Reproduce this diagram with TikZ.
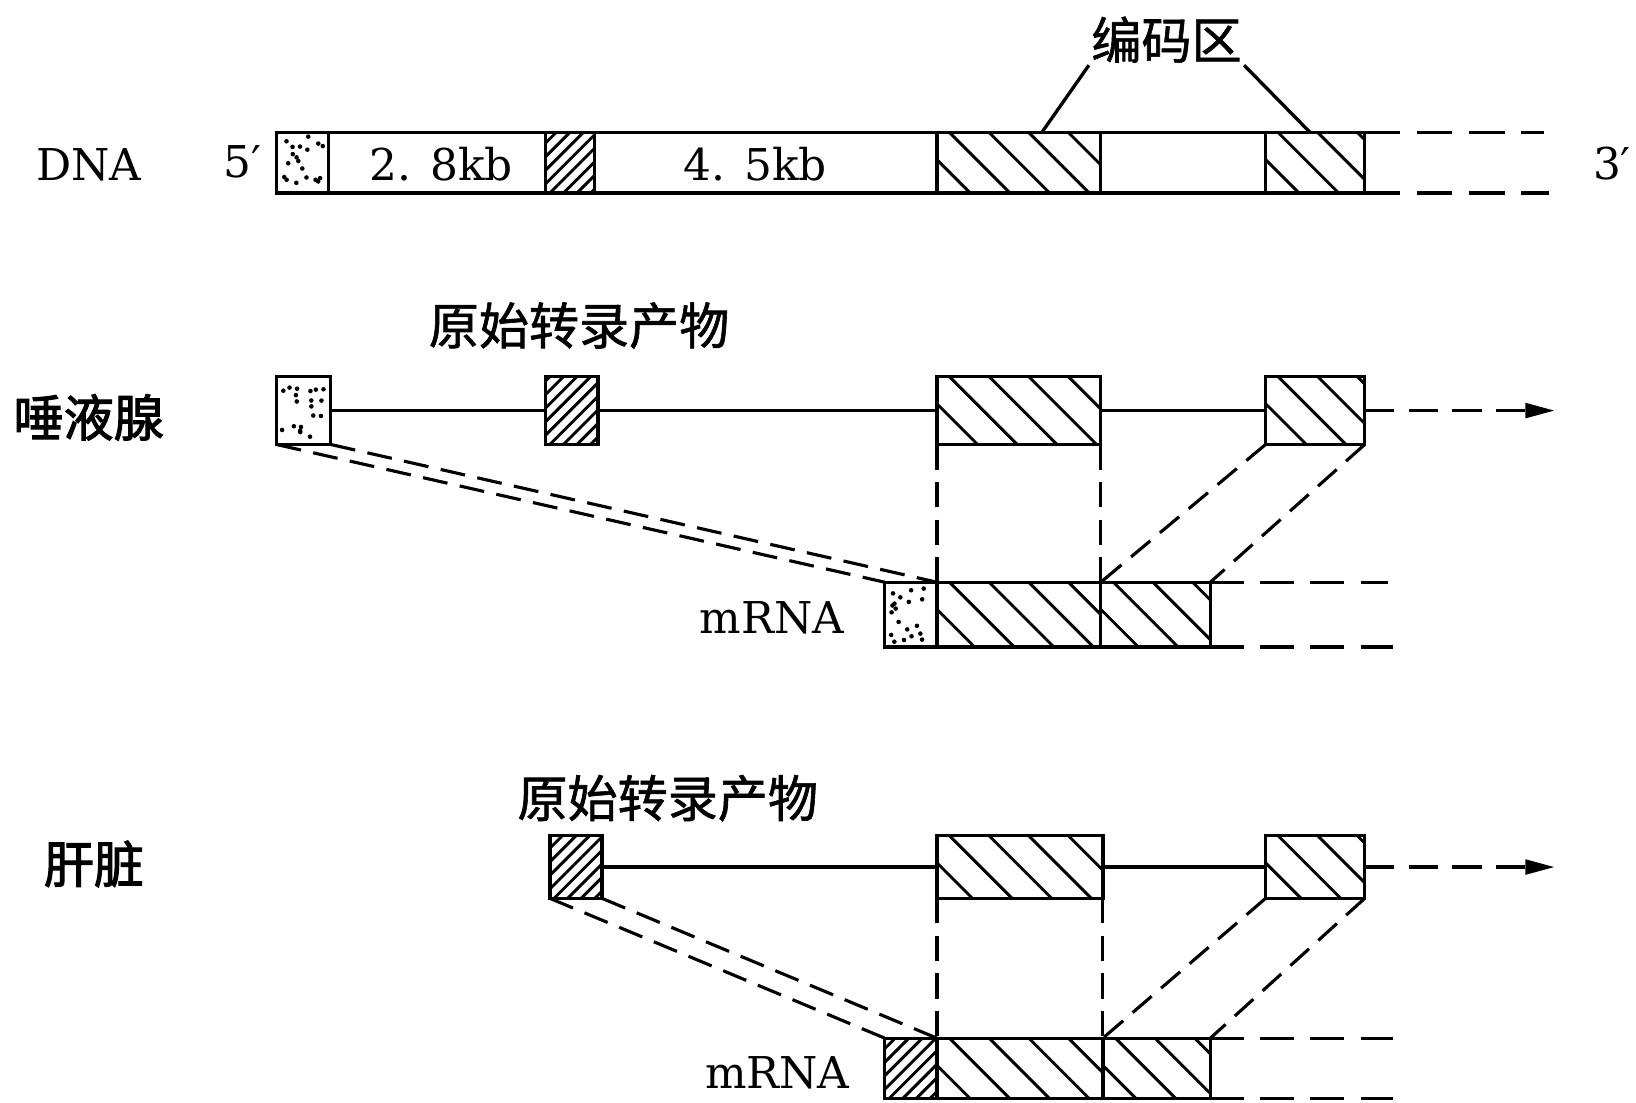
\documentclass[tikz,border=0pt]{standalone}
\usepackage{fontspec}
\setmainfont{DejaVu Serif}
\newfontfamily\cjk{Noto Sans CJK SC}[FakeBold=1.2]
\newfontfamily\cjkb{Noto Sans CJK SC}[FakeBold=2.2]
\usetikzlibrary{calc,fit,arrows.meta}
\begin{document}
\pgfmathsetseed{7}
\begin{tikzpicture}[x=0.5pt,y=-0.5pt,
  box/.style={draw, line width=1.6pt, inner sep=0pt, outer sep=0pt, fill=white},
  hl/.style={line width=1.4pt},
  nwbox/.style={box, path picture={\foreach \i in {-3,...,6}{\draw[hl] ($(path picture bounding box.north west)+(\i*38+12,0)$) -- ++(110,110);}}},
  nebox/.style={box, path picture={\foreach \i in {-7,...,6}{\draw[hl] ($(path picture bounding box.south west)+(\i*13+4,0)$) -- ++(110,-110);}}},
  dotbox/.style={box, path picture={\foreach \k in {1,...,19}{\pgfmathsetmacro\rxx{0.1+0.8*rnd}\pgfmathsetmacro\ryy{4+52*rnd}\fill[black] ($(path picture bounding box.south west)!\rxx!(path picture bounding box.south east)+(0,-\ryy)$) circle[radius=1.1pt];}}},
  bar/.style={line width=1.6pt},
  dnadash/.style={line width=1.6pt, dash pattern=on 17pt off 8pt},
  dsh/.style={line width=1.5pt, dash pattern=on 12pt off 6pt},
  mdash/.style={line width=1.6pt, dash pattern=on 16pt off 8pt},
  arr/.style={line width=1.6pt, dash pattern=on 14pt off 7pt, -{Triangle[length=14pt,width=7pt]}},
  lat/.style={font=\fontsize{21}{23}\selectfont, inner sep=1pt},
  zh/.style={font=\cjk\fontsize{24}{26}\selectfont, inner sep=1pt},
  zhb/.style={font=\cjkb\fontsize{24}{26}\selectfont, inner sep=1pt}
]
\useasboundingbox (0,0) rectangle (1568,1057);

% ---------- Row 1: DNA ----------
\node[lat] (dna) at (85,158) {DNA};
\node[lat] (p5) at (232,155) {5′};
\node[lat] (p3) at (1545,157) {3′};
\node[dotbox, fit={(265,127)(315,185)}] (d1) {};
\node[nebox, fit={(523,127)(570,185)}] (d2) {};
\node[nwbox, fit={(898,127)(1055,185)}] (d3) {};
\node[nwbox, fit={(1213,127)(1308,185)}] (d4) {};
\draw[bar] (d1.north east) -- (d2.north west) (d1.south east) -- (d2.south west);
\draw[bar] (d2.north east) -- (d3.north west) (d2.south east) -- (d3.south west);
\draw[bar] (d3.north east) -- (d4.north west) (d3.south east) -- (d4.south west);
\coordinate (e1t) at (1480,127);
\coordinate (e1b) at (1485,185);
\draw[dnadash] (d4.north east) -- (e1t);
\draw[dnadash] (d4.south east) -- (e1b);
\node[lat] (k1) at (423,157) {2. 8kb};
\node[lat] (k2) at (724,157) {4. 5kb};
\node[zh] (code) at (1118,38) {编码区};
\draw[bar] (code.south west) -- ($(d3.north west)!0.64!(d3.north east)$);
\draw[bar] (code.south east) -- ($(d4.north west)!0.45!(d4.north east)$);

% ---------- Row 2: salivary gland ----------
\node[zh] (t1) at (555,312) {原始转录产物};
\node[zhb] (sal) at (85,400) {唾液腺};
\node[dotbox, fit={(265,361)(317,426)}] (s1) {};
\node[nebox, fit={(523,361)(573,426)}] (s2) {};
\node[nwbox, fit={(898,361)(1055,426)}] (s3) {};
\node[nwbox, fit={(1213,361)(1308,426)}] (s4) {};
\draw[bar] (s1.east) -- (s2.west);
\draw[bar] (s2.east) -- (s3.west);
\draw[bar] (s3.east) -- (s4.west);
\coordinate (a1) at (1490,393.5);
\draw[arr] (s4.east) -- (a1);
\node[lat] (mr1) at (740,592) {mRNA};
\node[dotbox, fit={(848,558)(898,620)}] (m1) {};
\node[nwbox, fit={(898,558)(1055,620)}] (m2) {};
\node[nwbox, fit={(1055,558)(1160,620)}] (m3) {};
\coordinate (m3t) at (1330,558);
\coordinate (m3b) at (1335,620);
\draw[mdash] (m3.north east) -- (m3t);
\draw[mdash] (m3.south east) -- (m3b);
\draw[dsh] (s1.south west) -- (m1.north west);
\draw[dsh] (s1.south east) -- (m1.north east);
\draw[dsh] (s3.south west) -- (m2.north west);
\draw[dsh] (s3.south east) -- (m2.north east);
\draw[dsh] (s4.south west) -- (m3.north west);
\draw[dsh] (s4.south east) -- (m3.north east);

% ---------- Row 3: liver ----------
\node[zh] (t2) at (640,765) {原始转录产物};
\node[zhb] (liv) at (90,828) {肝脏};
\node[nebox, fit={(527,801)(577,861)}] (l2) {};
\node[nwbox, fit={(898,801)(1057,861)}] (l3) {};
\node[nwbox, fit={(1213,801)(1308,861)}] (l4) {};
\draw[bar] (l2.east) -- (l3.west);
\draw[bar] (l3.east) -- (l4.west);
\coordinate (a2) at (1490,831);
\draw[arr] (l4.east) -- (a2);
\node[lat] (mr2) at (745,1028) {mRNA};
\node[nebox, fit={(848,995)(898,1053)}] (n1) {};
\node[nwbox, fit={(898,995)(1057,1053)}] (n2) {};
\node[nwbox, fit={(1057,995)(1160,1053)}] (n3) {};
\coordinate (n3t) at (1335,995);
\coordinate (n3b) at (1335,1053);
\draw[mdash] (n3.north east) -- (n3t);
\draw[mdash] (n3.south east) -- (n3b);
\draw[dsh] (l2.south west) -- (n1.north west);
\draw[dsh] (l2.south east) -- (n1.north east);
\draw[dsh] (l3.south west) -- (n2.north west);
\draw[dsh] (l3.south east) -- (n2.north east);
\draw[dsh] (l4.south west) -- (n3.north west);
\draw[dsh] (l4.south east) -- (n3.north east);
\end{tikzpicture}
\end{document}
